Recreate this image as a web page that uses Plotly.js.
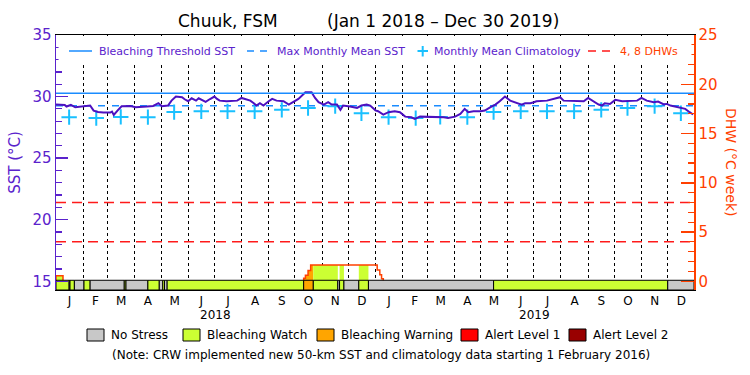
<!DOCTYPE html>
<html><head><meta charset="utf-8">
<script src="https://cdn.plot.ly/plotly-3.0.1.min.js"></script>
<style>html,body{margin:0;padding:0;background:#fff}#chart{width:750px;height:375px}</style>
</head><body><div id="chart"></div>
<script>
// ---------------- DATA ----------------
const sstDates = ['2018-01-01','2018-01-11','2018-01-13','2018-01-18','2018-01-23','2018-02-01','2018-02-09','2018-02-13','2018-02-18','2018-02-24','2018-03-04','2018-03-06','2018-03-08','2018-03-13','2018-03-17','2018-03-27','2018-04-02','2018-04-15','2018-04-22','2018-04-28','2018-05-02','2018-05-09','2018-05-13','2018-05-18','2018-05-25','2018-05-28','2018-06-01','2018-06-05','2018-06-10','2018-06-13','2018-06-18','2018-06-21','2018-06-26','2018-07-01','2018-07-04','2018-07-07','2018-07-15','2018-07-27','2018-08-01','2018-08-05','2018-08-11','2018-08-15','2018-08-18','2018-08-22','2018-08-26','2018-09-01','2018-09-05','2018-09-10','2018-09-18','2018-09-24','2018-09-27','2018-10-05','2018-10-13','2018-10-20','2018-10-24','2018-10-28','2018-11-03','2018-11-08','2018-11-12','2018-11-18','2018-11-22','2018-11-25','2018-12-03','2018-12-11','2018-12-16','2018-12-22','2018-12-26',
'2019-01-01','2019-01-04','2019-01-10','2019-01-16','2019-01-23','2019-01-29','2019-02-04','2019-02-11','2019-02-15','2019-02-21','2019-03-12','2019-03-20','2019-03-25','2019-04-02','2019-04-08','2019-04-13','2019-04-17','2019-04-23','2019-05-01','2019-05-06','2019-05-12','2019-05-18','2019-05-23','2019-05-29','2019-06-04','2019-06-12','2019-06-17','2019-06-21','2019-06-27','2019-07-01','2019-07-04','2019-07-16','2019-07-25','2019-07-31','2019-08-04','2019-08-15','2019-08-27','2019-09-01','2019-09-07','2019-09-13','2019-09-17','2019-09-20','2019-09-26','2019-10-02','2019-10-10','2019-10-19','2019-10-27','2019-11-01','2019-11-07','2019-11-15','2019-11-20','2019-11-26','2019-11-30','2019-12-04','2019-12-09','2019-12-15','2019-12-21','2019-12-26','2019-12-30'];
const sstValues = [29.35,29.32,29.19,29.32,29.13,29.19,29.27,28.86,28.75,28.70,28.70,28.78,28.51,28.92,29.21,29.24,29.13,29.19,29.24,29.46,29.21,29.27,29.67,30.00,29.95,29.78,29.62,29.86,29.67,29.86,29.67,29.57,29.80,30.00,29.81,29.67,29.62,29.67,29.89,29.81,29.67,29.46,29.27,29.46,29.27,29.62,29.81,29.67,29.62,29.35,29.46,29.81,30.35,30.35,29.89,29.54,29.35,29.54,29.35,29.35,28.92,29.27,29.19,29.08,29.27,29.35,29.27,
28.88,28.81,28.54,28.73,28.81,28.73,28.37,28.32,28.19,28.37,28.37,28.32,28.27,28.37,28.59,29.00,28.73,28.81,28.81,28.86,29.13,29.35,29.62,30.00,29.67,29.46,29.35,29.46,29.46,29.54,29.62,29.67,29.81,29.95,29.67,29.62,29.62,29.89,29.62,29.35,29.27,29.46,29.40,29.73,29.62,29.67,29.67,29.89,29.67,29.54,29.60,29.38,29.40,29.27,29.19,29.13,29.00,28.73,28.54];

const climYears = [2018, 2019];
const climValues = [28.33,28.25,28.35,28.33,28.74,28.80,28.80,28.80,28.92,29.07,29.22,28.64];
const maxMonthlyMean = 29.26;
const bleachingThreshold = 30.26;
const dhwLevels = [4, 8];

const dhwDates  = ['2018-01-01','2018-01-09','2018-10-11','2018-10-13','2018-10-16','2018-10-19','2019-01-03','2019-01-06','2019-01-08','2019-01-10'];
const dhwValues = [0.56, 0, 0.3, 0.6, 1.1, 1.65, 1.15, 0.65, 0.25, 0];

const stressStarts = ['2018-01-01','2018-01-16','2018-01-17','2018-01-22','2018-02-02','2018-02-09','2018-03-20','2018-03-22','2018-04-16','2018-04-29','2018-05-03','2018-05-05','2018-05-08','2018-10-11','2018-10-22','2018-11-19','2018-11-21','2018-11-26','2018-12-13','2018-12-24','2019-05-16','2019-12-01'];
const stressLevels = [1,0,1,0,1,0,1,0,1,0,1,0,1,2,1,0,1,0,1,0,1,0];
const periodStart = '2018-01-01';
const periodEnd = '2019-12-31';

const monthLetters = ['J','F','M','A','M','J','J','A','S','O','N','D'];
const stressLabels = ['No Stress','Bleaching Watch','Bleaching Warning','Alert Level 1','Alert Level 2'];
const stressColors = ['#c8c8c8','#ccff33','#ffa500','#ff0000','#990000'];

// ---------------- STYLE ----------------
const FONT = 'DejaVu Sans';
const PURPLE = '#5a22cc';
const SSTLINE = '#4c10c0';
const BLUE = '#1a8cff';
const CYAN = '#19c0ff';
const ORANGE = '#ff4000';
const RED = '#ff1a1a';
const Y1 = [14.29, 35.0];
const Y2 = [(Y1[0]-15)/0.8, 25.0];

const ms = s => Date.parse(s + 'T00:00:00Z');
const iso = t => new Date(t).toISOString().replace('T',' ').slice(0,19);
const T0 = ms(periodStart), T1 = ms(periodEnd);

const monthStartsMs = [];
for (let y of climYears) for (let m = 0; m < 12; m++) monthStartsMs.push(Date.UTC(y, m, 1));
monthStartsMs.push(Date.UTC(2020, 0, 1));
const midMonths = [], midLabels = [];
for (let i = 0; i < 24; i++) { midMonths.push(iso((monthStartsMs[i] + monthStartsMs[i+1]) / 2)); midLabels.push(monthLetters[i % 12]); }
const gridMonths = monthStartsMs.slice(1, 24).map(iso);

const climX = [], climY = [];
climYears.forEach(y => climValues.forEach((v, m) => { climX.push(iso(Date.UTC(y, m, 16))); climY.push(v); }));

const traces = [];
// DHW reference lines (on y5: same scale as y2, carries minor DHW ticks)
dhwLevels.forEach(l => traces.push({x:[iso(T0), iso(T1)], y:[l, l], yaxis:'y5', mode:'lines', line:{color:RED, width:1.5, dash:'10px,6px'}, hoverinfo:'skip', showlegend:false}));
traces.push({x:[iso(T0), iso(T1)], y:[maxMonthlyMean, maxMonthlyMean], mode:'lines', line:{color:BLUE, width:1.5, dash:'7px,7px'}, hoverinfo:'skip', showlegend:false});
traces.push({x:climX, y:climY, mode:'markers', marker:{symbol:'cross-thin', size:11, line:{color:CYAN, width:2}, color:CYAN}, hoverinfo:'skip', showlegend:false});
traces.push({x:sstDates, y:sstValues, mode:'lines', line:{color:SSTLINE, width:2}, hoverinfo:'skip', showlegend:false});
// threshold (on y4: same scale as y, carries minor SST ticks)
traces.push({x:[iso(T0), iso(T1)], y:[bleachingThreshold, bleachingThreshold], yaxis:'y4', mode:'lines', line:{color:BLUE, width:1.5}, hoverinfo:'skip', showlegend:false});

const dT = dhwDates.map(ms);
const dhwAt = t => { let v = 0; for (let i = 0; i < dT.length; i++) if (dT[i] <= t) v = dhwValues[i]; return v; };
const sT = stressStarts.map(ms);
for (let i = 0; i < sT.length; i++) {
  const s = sT[i], e = (i + 1 < sT.length) ? sT[i+1] : T1;
  if (stressLevels[i] === 0) continue;
  const xs = [s], ys = [dhwAt(s)];
  for (let j = 0; j < dT.length; j++) if (dT[j] > s && dT[j] < e) { xs.push(dT[j]); ys.push(dhwValues[j]); }
  xs.push(e); ys.push(ys[ys.length-1]);
  if (Math.max(...ys) <= 0) continue;
  traces.push({x:xs.map(iso), y:ys, yaxis:'y2', mode:'lines', line:{shape:'hv', width:0, color:stressColors[stressLevels[i]]}, fill:'tozeroy', fillcolor:stressColors[stressLevels[i]], hoverinfo:'skip', showlegend:false});
}
{
  const xs = [], ys = []; let prev = 0;
  for (let j = 0; j < dT.length; j++) {
    const v = dhwValues[j], t = dT[j];
    if (v > 0 && prev === 0) { xs.push(iso(t)); ys.push(0); }
    if (v > 0) { xs.push(iso(t)); ys.push(v); }
    if (v === 0 && prev > 0) { xs.push(iso(t)); ys.push(0); xs.push(null); ys.push(null); }
    prev = v;
  }
  traces.push({x:xs, y:ys, yaxis:'y2', mode:'lines', line:{shape:'hv', color:ORANGE, width:1.5}, connectgaps:false, hoverinfo:'skip', showlegend:false});
}
{
  const widths = sT.map((s, i) => ((i + 1 < sT.length) ? sT[i+1] : T1) - s);
  traces.push({type:'bar', x:sT.map(iso), y:sT.map(() => 0.1 - Y2[0]), base:Y2[0], width:widths, offset:0, yaxis:'y3',
    marker:{color:stressLevels.map(l => stressColors[l]), line:{color:'#000', width:1}}, hoverinfo:'skip', showlegend:false});
}

// ---------------- LAYOUT ----------------
const L = 56, R = 694, TOP = 35, BOT = 290;
const px = x => (x - L) / (R - L);
const py = y => (BOT - y) / (BOT - TOP);
const ann = (text, x, y, opts) => Object.assign({text, x:px(x), y:py(y), xref:'paper', yref:'paper', xanchor:'center', yanchor:'middle', showarrow:false}, opts);

const shapes = [
  {type:'rect', xref:'paper', yref:'paper', x0:0.004, x1:0.996, y0:py(63), y1:py(36), fillcolor:'#fff', line:{width:0}, layer:'above'},
  {type:'line', xref:'paper', yref:'paper', x0:px(69), x1:px(92), y0:py(51), y1:py(51), line:{color:BLUE, width:1.5}},
  {type:'line', xref:'paper', yref:'paper', x0:px(247), x1:px(268), y0:py(51), y1:py(51), line:{color:BLUE, width:1.5, dash:'7px,6px'}},
  {type:'line', xref:'paper', yref:'paper', x0:px(417.5), x1:px(428), y0:py(51), y1:py(51), line:{color:CYAN, width:2}},
  {type:'line', xref:'paper', yref:'paper', x0:px(422.7), x1:px(422.7), y0:py(46), y1:py(56.5), line:{color:CYAN, width:2}},
  {type:'line', xref:'paper', yref:'paper', x0:px(588), x1:px(612), y0:py(51), y1:py(51), line:{color:RED, width:1.5, dash:'8px,6px'}}
];
const annotations = [
  ann('Chuuk, FSM', 227.5, 21, {font:{family:FONT, size:17, color:'#000'}}),
  ann('(Jan 1 2018 – Dec 30 2019)', 442.5, 21, {font:{family:FONT, size:17, color:'#000'}}),
  ann('Bleaching Threshold SST', 97, 51, {xanchor:'left', font:{family:FONT, size:11, color:PURPLE}}),
  ann('Max Monthly Mean SST', 275, 51, {xanchor:'left', font:{family:FONT, size:11, color:PURPLE}}),
  ann('Monthly Mean Climatology', 432, 51, {xanchor:'left', font:{family:FONT, size:11, color:PURPLE}}),
  ann('4, 8 DHWs', 618, 51, {xanchor:'left', font:{family:FONT, size:11, color:ORANGE}}),
  ann('DHW (°C week)', 731, 162, {textangle:90, font:{family:FONT, size:14, color:ORANGE}}),
  ann('(Note: CRW implemented new 50-km SST and climatology data starting 1 February 2016)', 380.5, 355, {font:{family:FONT, size:12, color:'#000'}})
];
climYears.forEach(y => annotations.push({text:String(y), x:iso(Date.UTC(y, 6, 2)), xref:'x', y:py(315), yref:'paper', xanchor:'center', yanchor:'middle', showarrow:false, font:{family:FONT, size:12, color:'#000'}}));
const boxX = [87, 183, 317, 461, 569];
stressLabels.forEach((lab, i) => {
  shapes.push({type:'rect', xref:'paper', yref:'paper', x0:px(boxX[i]), x1:px(boxX[i]+17), y0:py(341), y1:py(329), fillcolor:stressColors[i], line:{color:'#000', width:1}});
  annotations.push(ann(lab, boxX[i]+22, 335, {xanchor:'left', font:{family:FONT, size:12, color:'#000'}}));
});

const layout = {
  width:750, height:375, margin:{l:L, r:750-R, t:TOP, b:375-BOT},
  paper_bgcolor:'#fff', plot_bgcolor:'#fff', showlegend:false, hovermode:false, barmode:'overlay',
  xaxis:{type:'date', range:[iso(T0), iso(T1)], tickmode:'array', tickvals:midMonths, ticktext:midLabels, ticks:'',
    tickfont:{family:FONT, size:12, color:'#000'}, showgrid:false, zeroline:false,
    showline:true, mirror:true, linecolor:'#000', linewidth:1,
    minor:{tickmode:'array', tickvals:gridMonths, showgrid:true, gridcolor:'#000', griddash:'dot', gridwidth:1, ticks:''}},
  yaxis:{range:Y1, tickmode:'linear', tick0:15, dtick:5, ticks:'inside', ticklen:12, tickwidth:1.5, tickcolor:PURPLE,
    showline:true, linecolor:PURPLE, linewidth:1.5, showgrid:false, zeroline:false,
    tickfont:{family:FONT, size:15, color:PURPLE}, title:{text:'SST (°C)', font:{family:FONT, size:15, color:PURPLE}, standoff:8}},
  yaxis2:{range:Y2, overlaying:'y', side:'right', tickmode:'linear', tick0:0, dtick:5, ticks:'inside', ticklen:13, tickwidth:1.5, tickcolor:ORANGE,
    showline:true, linecolor:ORANGE, linewidth:1.5, showgrid:false, zeroline:false,
    tickfont:{family:FONT, size:15, color:ORANGE}},
  yaxis3:{range:Y2, overlaying:'y', visible:false, showgrid:false, zeroline:false},
  yaxis4:{range:Y1, overlaying:'y', side:'left', tickmode:'linear', tick0:15, dtick:1, ticks:'inside', ticklen:6, tickwidth:1.2, tickcolor:PURPLE,
    showticklabels:false, showline:false, showgrid:false, zeroline:false},
  yaxis5:{range:Y2, overlaying:'y', side:'right', tickmode:'linear', tick0:0, dtick:1, ticks:'inside', ticklen:6, tickwidth:1.2, tickcolor:ORANGE,
    showticklabels:false, showline:false, showgrid:false, zeroline:false},
  shapes:shapes, annotations:annotations
};
Plotly.newPlot('chart', traces, layout, {staticPlot:true, displayModeBar:false});
</script></body></html>
